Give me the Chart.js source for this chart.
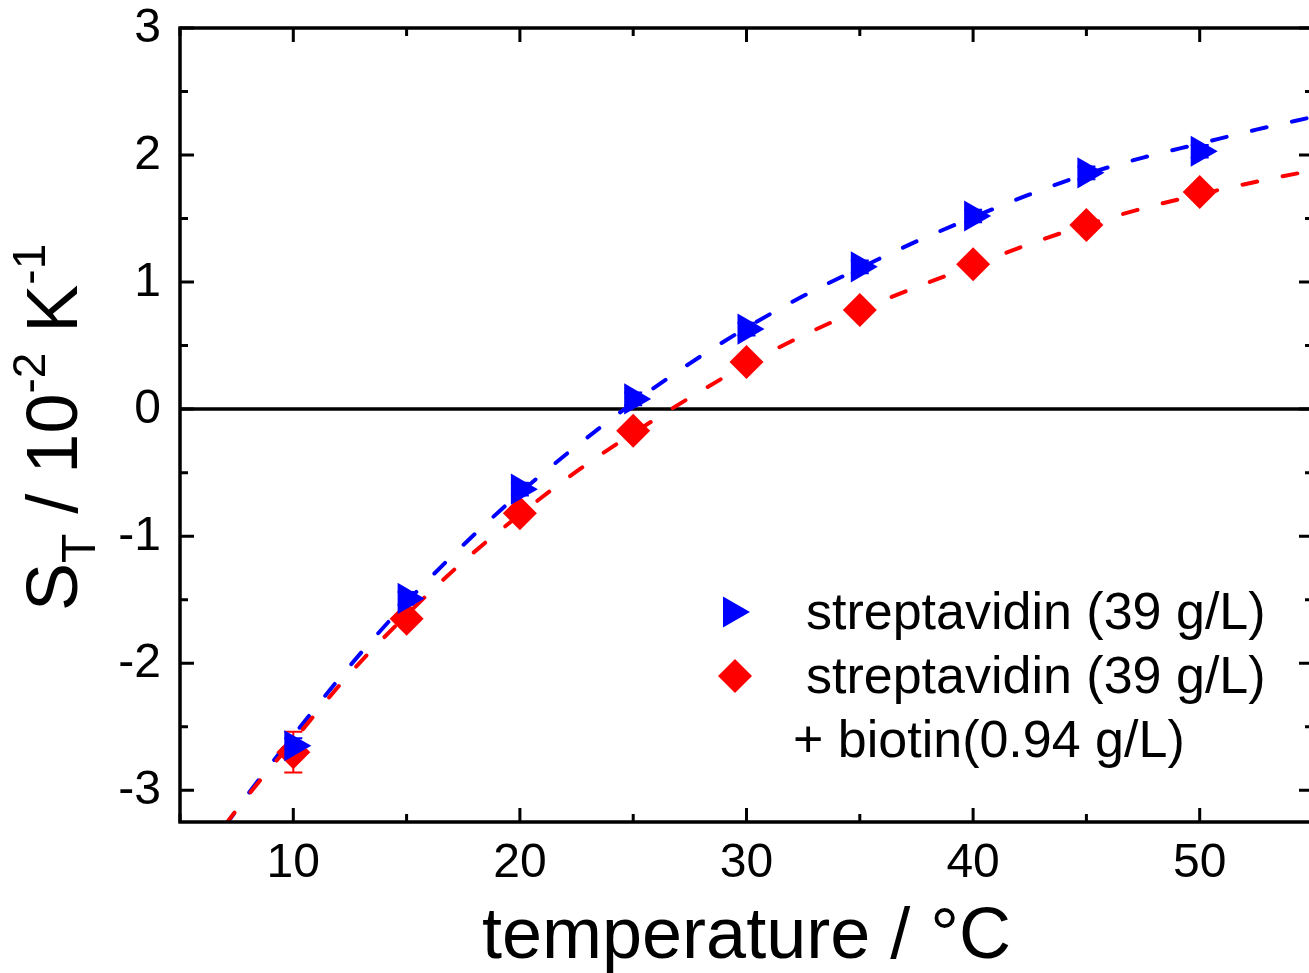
<!DOCTYPE html>
<html><head><meta charset="utf-8">
<script src="https://cdn.jsdelivr.net/npm/chart.js@4/dist/chart.umd.min.js"></script>
<style>html,body{margin:0;padding:0;overflow:hidden;background:#fff;}canvas{display:block;}</style>
</head><body>
<canvas id="c" width="1316" height="973"></canvas>
<script>
// ---- data ----
const temperatures = [10, 15, 20, 25, 30, 35, 40, 45, 50];
const streptavidin = [-2.65, -1.49, -0.63, 0.08, 0.63, 1.12, 1.52, 1.86, 2.03];
const streptavidinErr = [0.06, 0.05, 0.05, 0.05, 0.05, 0.05, 0.05, 0.05, 0.05];
const withBiotin = [-2.70, -1.65, -0.82, -0.17, 0.37, 0.78, 1.14, 1.45, 1.71];
const withBiotinErr = [0.16, 0.05, 0.05, 0.05, 0.05, 0.05, 0.05, 0.05, 0.05];
const fitTemps = [7, 8, 10, 12.5, 15, 17.5, 20, 22.5, 25, 27.5, 30, 32.5, 35, 37.5, 40, 42.5, 45, 47.5, 50, 52.5, 55];
const fitStreptavidin = [-3.28, -3.03, -2.57, -2.02, -1.52, -1.07, -0.66, -0.29, 0.05, 0.36, 0.64, 0.89, 1.11, 1.32, 1.51, 1.69, 1.85, 1.98, 2.09, 2.20, 2.30];
const fitWithBiotin = [-3.27, -3.04, -2.61, -2.08, -1.62, -1.20, -0.83, -0.49, -0.19, 0.09, 0.35, 0.58, 0.78, 0.96, 1.13, 1.30, 1.45, 1.58, 1.69, 1.79, 1.88];
const xTickValues = [10, 20, 30, 40, 50];
const xMinorValues = [5, 15, 25, 35, 45, 55];
const yTickValues = [-3, -2, -1, 0, 1, 2, 3];
const yMinorValues = [-2.5, -1.5, -0.5, 0.5, 1.5, 2.5];
const legendLines = ['streptavidin (39 g/L)', 'streptavidin (39 g/L)', '+ biotin(0.94 g/L)'];
const xTitle = 'temperature / \u00B0C';

const FONT = '"Liberation Sans", Arial, sans-serif';
const BLUE = '#0000ff', RED = '#ff0000';

const pts = (xs, ys) => xs.map((x, i) => ({x, y: ys[i]}));

const framePlugin = {
  id: 'frame',
  beforeDatasetsDraw(chart) {
    const {ctx, chartArea: a, scales: {x, y}} = chart;
    ctx.save();
    ctx.strokeStyle = '#000'; ctx.lineWidth = 3.5;
    const y0 = y.getPixelForValue(0);
    ctx.beginPath(); ctx.moveTo(a.left, y0); ctx.lineTo(a.right, y0); ctx.stroke();
    const drawErr = (vals, errs, color) => {
      ctx.strokeStyle = color; ctx.lineWidth = 2;
      vals.forEach((v, i) => {
        const px = x.getPixelForValue(temperatures[i]);
        const top = y.getPixelForValue(v + errs[i]);
        const bot = y.getPixelForValue(v - errs[i]);
        ctx.beginPath();
        ctx.moveTo(px, top); ctx.lineTo(px, bot);
        ctx.moveTo(px - 9, top); ctx.lineTo(px + 9, top);
        ctx.moveTo(px - 9, bot); ctx.lineTo(px + 9, bot);
        ctx.stroke();
      });
    };
    drawErr(withBiotin, withBiotinErr, RED);
    drawErr(streptavidin, streptavidinErr, BLUE);
    ctx.restore();
  },
  afterDraw(chart) {
    const {ctx, chartArea: a, scales: {x, y}} = chart;
    ctx.save();
    ctx.strokeStyle = '#000'; ctx.lineWidth = 3.5; ctx.lineCap = 'square';
    ctx.beginPath();
    ctx.moveTo(a.left, a.top); ctx.lineTo(a.right, a.top); ctx.lineTo(a.right, a.bottom);
    ctx.lineTo(a.left, a.bottom); ctx.closePath(); ctx.stroke();
    ctx.lineCap = 'butt'; ctx.lineWidth = 3;
    const MAJ = 14, MIN = 8;
    ctx.beginPath();
    xTickValues.concat(xMinorValues).forEach(v => {
      const L = xTickValues.includes(v) ? MAJ : MIN;
      const px = x.getPixelForValue(v);
      ctx.moveTo(px, a.bottom); ctx.lineTo(px, a.bottom - L);
      ctx.moveTo(px, a.top); ctx.lineTo(px, a.top + L);
    });
    yTickValues.concat(yMinorValues).forEach(v => {
      const L = yTickValues.includes(v) ? MAJ : MIN;
      const py = y.getPixelForValue(v);
      ctx.moveTo(a.left, py); ctx.lineTo(a.left + L, py);
      ctx.moveTo(a.right, py); ctx.lineTo(a.right - L, py);
    });
    ctx.stroke();

    // tick labels
    ctx.fillStyle = '#000';
    ctx.font = '48px ' + FONT;
    ctx.textBaseline = 'middle';
    ctx.textAlign = 'right';
    yTickValues.forEach(v => ctx.fillText(String(v), a.left - 19, y.getPixelForValue(v) + 1));
    ctx.textAlign = 'center';
    xTickValues.forEach(v => ctx.fillText(String(v), x.getPixelForValue(v), a.bottom + 42));

    // x title
    ctx.font = '72px ' + FONT;
    ctx.textAlign = 'center'; ctx.textBaseline = 'alphabetic';
    ctx.fillText(xTitle, x.getPixelForValue(30), 958);

    // y title (rotated, with sub/superscripts)
    ctx.save();
    ctx.translate(77, 611);
    ctx.rotate(-Math.PI / 2);
    ctx.textAlign = 'left';
    const parts = [
      ['S', 72, 0], ['T', 48, 18], [' / 10', 72, 0], ['-2', 46, -32], [' K', 72, 0], ['-1', 46, -32]
    ];
    let cx = 0;
    parts.forEach(([t, s, dy]) => {
      ctx.font = s + 'px ' + FONT;
      ctx.fillText(t, cx, dy);
      cx += ctx.measureText(t).width;
    });
    ctx.restore();

    // legend
    const dp = Chart.helpers.drawPoint;
    ctx.fillStyle = BLUE; ctx.strokeStyle = BLUE;
    dp(ctx, {pointStyle: 'triangle', radius: 18, rotation: 90, borderWidth: 0}, 732, 612);
    ctx.fillStyle = RED; ctx.strokeStyle = RED;
    dp(ctx, {pointStyle: 'rectRot', radius: 17, rotation: 0, borderWidth: 0}, 735, 676);
    ctx.fillStyle = '#000';
    ctx.font = '52px ' + FONT;
    ctx.textAlign = 'left';
    ctx.fillText(legendLines[0], 806, 629);
    ctx.fillText(legendLines[1], 806, 693);
    ctx.fillText(legendLines[2], 793, 757);
    ctx.restore();
  }
};

new Chart(document.getElementById('c'), {
  data: {
    datasets: [
      {type: 'scatter', label: legendLines[0], data: pts(temperatures, streptavidin),
        pointStyle: 'triangle', rotation: 90, pointRadius: 18, backgroundColor: BLUE,
        borderColor: BLUE, borderWidth: 0, order: 0, clip: false},
      {type: 'scatter', label: legendLines[1] + ' ' + legendLines[2], data: pts(temperatures, withBiotin),
        pointStyle: 'rectRot', pointRadius: 17, backgroundColor: RED,
        borderColor: RED, borderWidth: 0, order: 1, clip: false},
      {type: 'line', label: 'fit streptavidin', data: pts(fitTemps, fitStreptavidin),
        borderColor: BLUE, borderWidth: 4, borderDash: [15, 26], borderCapStyle: 'round',
        pointRadius: 0, cubicInterpolationMode: 'monotone', fill: false, order: 3, clip: 0},
      {type: 'line', label: 'fit with biotin', data: pts(fitTemps, fitWithBiotin),
        borderColor: RED, borderWidth: 4, borderDash: [15, 26], borderCapStyle: 'round',
        pointRadius: 0, cubicInterpolationMode: 'monotone', fill: false, order: 2, clip: 0}
    ]
  },
  options: {
    responsive: false, animation: false,
    layout: {autoPadding: false, padding: {left: 0, top: 28, right: 3, bottom: 0}},
    plugins: {legend: {display: false}, tooltip: {enabled: false}},
    scales: {
      x: {type: 'linear', min: 5, max: 55,
        afterFit: s => { s.height = 151; },
        grid: {display: false, drawTicks: false}, border: {display: false},
        ticks: {display: false}},
      y: {type: 'linear', min: -3.25, max: 3,
        afterFit: s => { s.width = 180; },
        grid: {display: false, drawTicks: false}, border: {display: false},
        ticks: {display: false}}
    }
  },
  plugins: [framePlugin]
});
</script>
</body></html>
